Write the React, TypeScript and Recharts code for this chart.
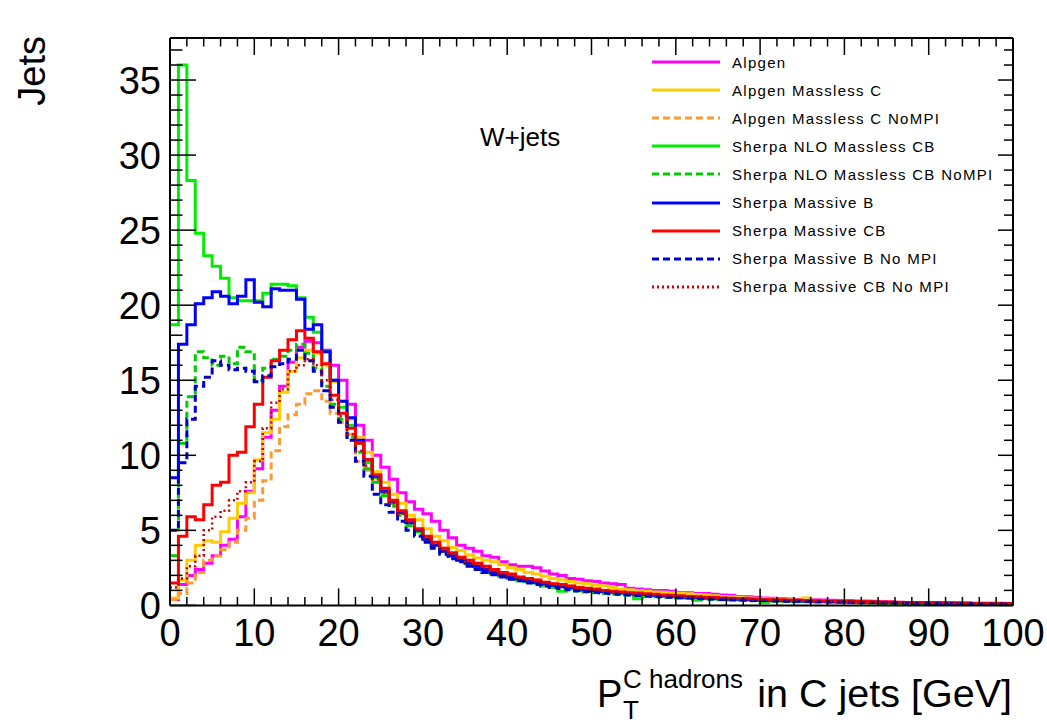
import { LineChart, Line, XAxis, YAxis, Label } from 'recharts'

const font = '"Liberation Sans", Arial, Helvetica, sans-serif'

// 1 GeV bins from 0 to 100 (low edges plus the final upper edge)
const binEdges = [
  0, 1, 2, 3, 4, 5, 6, 7, 8, 9, 10, 11, 12, 13, 14, 15, 16, 17, 18, 19,
  20, 21, 22, 23, 24, 25, 26, 27, 28, 29, 30, 31, 32, 33, 34, 35, 36, 37, 38, 39,
  40, 41, 42, 43, 44, 45, 46, 47, 48, 49, 50, 51, 52, 53, 54, 55, 56, 57, 58, 59,
  60, 61, 62, 63, 64, 65, 66, 67, 68, 69, 70, 71, 72, 73, 74, 75, 76, 77, 78, 79,
  80, 81, 82, 83, 84, 85, 86, 87, 88, 89, 90, 91, 92, 93, 94, 95, 96, 97, 98, 99, 100,
]

const xTicks = [
  0, 2, 4, 6, 8, 10, 12, 14, 16, 18, 20, 22, 24, 26, 28, 30, 32, 34, 36, 38, 40,
  42, 44, 46, 48, 50, 52, 54, 56, 58, 60, 62, 64, 66, 68, 70, 72, 74, 76, 78, 80,
  82, 84, 86, 88, 90, 92, 94, 96, 98, 100,
]
const yTicks = [
  0, 1, 2, 3, 4, 5, 6, 7, 8, 9, 10, 11, 12, 13, 14, 15, 16, 17, 18, 19, 20,
  21, 22, 23, 24, 25, 26, 27, 28, 29, 30, 31, 32, 33, 34, 35, 36, 37,
]

const alpgen = [
  0.4, 1.4, 2.0, 2.4, 2.8, 3.3, 4.0, 4.4, 5.9, 7.6,
  9.1, 11.2, 13.0, 14.6, 16.2, 17.2, 17.6, 17.5, 17.0, 16.0,
  15.0, 13.4, 12.0, 11.0, 10.0, 9.2, 8.4, 7.5, 6.9, 6.4,
  6.1, 5.6, 5.0, 4.5, 4.0, 3.8, 3.6, 3.3, 3.2, 2.9,
  2.7, 2.6, 2.6, 2.5, 2.3, 2.1, 2.0, 1.8, 1.75, 1.65,
  1.6, 1.5, 1.45, 1.4, 1.15, 1.1, 1.05, 1.0, 1.0, 0.95,
  0.85, 0.85, 0.8, 0.8, 0.75, 0.7, 0.68, 0.6, 0.58, 0.55,
  0.5, 0.48, 0.45, 0.42, 0.4, 0.4, 0.38, 0.36, 0.35, 0.33,
  0.32, 0.3, 0.3, 0.28, 0.25, 0.22, 0.2, 0.2, 0.18, 0.17,
  0.16, 0.15, 0.15, 0.14, 0.13, 0.12, 0.12, 0.11, 0.1, 0.1,
]

const alpgenMasslessC = [
  0.5, 1.7, 3.0, 4.0, 4.3, 4.2, 4.9, 5.8, 6.8, 7.5,
  9.7, 11.5, 12.4, 14.2, 15.6, 16.5, 17.0, 16.8, 16.0, 14.9,
  13.6, 12.4, 11.2, 10.2, 8.9, 8.2, 7.4, 6.8, 6.0, 5.7,
  5.1, 4.6, 4.3, 3.85, 3.65, 3.35, 3.15, 3.0, 2.9, 2.7,
  2.5, 2.4, 2.2, 2.1, 1.95, 1.8, 1.7, 1.6, 1.5, 1.45,
  1.35, 1.3, 1.2, 1.1, 1.05, 1.0, 0.95, 0.9, 0.88, 0.85,
  0.8, 0.78, 0.72, 0.7, 0.65, 0.6, 0.58, 0.55, 0.5, 0.48,
  0.45, 0.42, 0.4, 0.38, 0.36, 0.5, 0.34, 0.32, 0.3, 0.28,
  0.27, 0.25, 0.24, 0.22, 0.2, 0.19, 0.18, 0.17, 0.16, 0.15,
  0.14, 0.13, 0.13, 0.12, 0.11, 0.1, 0.1, 0.09, 0.09, 0.08,
]

const alpgenMasslessCNoMPI = [
  0.4, 0.8, 1.5, 2.2, 3.0, 3.3, 3.7, 4.2, 5.0, 5.8,
  7.0, 8.3, 10.3, 11.9, 12.7, 13.4, 14.1, 14.3, 13.6, 12.8,
  12.2, 11.4, 9.6, 9.0, 8.3, 7.5, 6.8, 6.1, 5.5, 5.0,
  4.5, 4.2, 3.8, 3.4, 3.2, 3.0, 2.8, 2.6, 2.4, 2.2,
  2.1, 1.9, 1.8, 1.7, 1.55, 1.45, 1.35, 1.3, 1.2, 1.1,
  1.05, 1.0, 0.95, 0.9, 0.85, 0.8, 0.75, 0.72, 0.68, 0.65,
  0.6, 0.58, 0.55, 0.52, 0.5, 0.47, 0.45, 0.42, 0.4, 0.38,
  0.36, 0.34, 0.33, 0.31, 0.3, 0.28, 0.27, 0.26, 0.25, 0.23,
  0.22, 0.21, 0.2, 0.19, 0.18, 0.17, 0.16, 0.15, 0.15, 0.14,
  0.13, 0.13, 0.12, 0.11, 0.11, 0.1, 0.1, 0.09, 0.09, 0.08,
]

const sherpaNloMasslessCB = [
  18.7, 36.0, 28.3, 24.8, 23.3, 22.6, 21.8, 20.5, 20.3, 20.3,
  20.3, 20.8, 21.4, 21.4, 21.3, 20.5, 19.2, 18.2, 16.9, 15.0,
  13.2, 12.0, 10.8, 9.5, 8.5, 7.5, 6.8, 6.1, 5.5, 4.9,
  4.4, 4.0, 3.6, 3.3, 3.1, 2.8, 2.6, 2.4, 2.2, 2.0,
  1.9, 1.7, 1.6, 1.5, 1.3, 1.2, 0.95, 1.1, 1.0, 0.95,
  0.95, 0.9, 0.85, 0.8, 0.75, 0.45, 0.7, 0.65, 0.6, 0.58,
  0.55, 0.5, 0.35, 0.48, 0.45, 0.42, 0.4, 0.38, 0.36, 0.34,
  0.2, 0.32, 0.3, 0.28, 0.27, 0.26, 0.25, 0.24, 0.22, 0.21,
  0.2, 0.19, 0.18, 0.17, 0.05, 0.16, 0.15, 0.14, 0.14, 0.13,
  0.12, 0.12, 0.11, 0.05, 0.1, 0.1, 0.09, 0.03, 0.08, 0.08,
]

const sherpaNloMasslessCBNoMPI = [
  3.3, 10.8, 13.9, 16.9, 16.5, 16.0, 16.6, 16.1, 17.2, 16.9,
  15.0, 15.8, 16.4, 16.6, 17.0, 17.4, 16.8, 15.8, 14.6, 13.4,
  12.4, 11.2, 10.2, 9.1, 8.2, 7.3, 6.6, 6.0, 5.3, 4.8,
  4.3, 3.9, 3.5, 3.2, 3.0, 2.7, 2.5, 2.3, 2.1, 1.95,
  1.8, 1.65, 1.55, 1.45, 1.35, 1.25, 1.15, 1.05, 0.95, 0.9,
  0.85, 0.8, 0.75, 0.72, 0.68, 0.65, 0.6, 0.58, 0.55, 0.52,
  0.5, 0.47, 0.45, 0.42, 0.4, 0.38, 0.36, 0.34, 0.33, 0.31,
  0.3, 0.28, 0.27, 0.26, 0.25, 0.24, 0.23, 0.22, 0.21, 0.2,
  0.19, 0.18, 0.17, 0.16, 0.15, 0.15, 0.14, 0.13, 0.13, 0.12,
  0.11, 0.11, 0.1, 0.1, 0.09, 0.09, 0.08, 0.08, 0.07, 0.07,
]

const sherpaMassiveB = [
  8.5, 17.4, 18.7, 20.1, 20.5, 20.9, 20.6, 20.1, 20.6, 21.7,
  20.2, 19.9, 21.1, 21.0, 21.0, 20.4, 18.4, 18.7, 16.9, 15.0,
  13.6, 12.5, 11.0, 9.7, 8.6, 7.6, 6.9, 6.2, 5.5, 5.0,
  4.4, 4.0, 3.6, 3.3, 3.0, 2.8, 2.6, 2.4, 2.2, 2.05,
  1.9, 1.8, 1.65, 1.55, 1.45, 1.35, 1.25, 1.2, 1.1, 1.05,
  1.0, 0.95, 0.9, 0.85, 0.8, 0.75, 0.72, 0.68, 0.65, 0.62,
  0.58, 0.55, 0.52, 0.5, 0.48, 0.45, 0.43, 0.41, 0.39, 0.37,
  0.35, 0.34, 0.32, 0.31, 0.3, 0.29, 0.28, 0.27, 0.26, 0.25,
  0.24, 0.23, 0.22, 0.21, 0.2, 0.2, 0.19, 0.18, 0.17, 0.17,
  0.16, 0.15, 0.15, 0.14, 0.14, 0.13, 0.13, 0.12, 0.12, 0.11,
]

const sherpaMassiveCB = [
  1.5, 4.6, 5.9, 5.7, 6.7, 8.0, 8.2, 10.0, 10.2, 11.9,
  13.4, 15.2, 16.3, 17.0, 17.7, 18.3, 17.8, 16.9, 16.1, 14.0,
  12.8, 11.8, 10.8, 9.7, 8.7, 7.8, 7.0, 6.3, 5.7, 5.1,
  4.6, 4.2, 3.8, 3.5, 3.2, 3.0, 2.8, 2.6, 2.4, 2.2,
  2.1, 1.9, 1.8, 1.7, 1.55, 1.45, 1.4, 1.3, 1.2, 1.15,
  1.1, 1.0, 0.95, 0.9, 0.85, 0.82, 0.78, 0.75, 0.7, 0.68,
  0.65, 0.6, 0.58, 0.55, 0.52, 0.5, 0.48, 0.46, 0.44, 0.42,
  0.4, 0.38, 0.37, 0.35, 0.34, 0.33, 0.31, 0.3, 0.29, 0.28,
  0.27, 0.26, 0.25, 0.24, 0.23, 0.22, 0.21, 0.2, 0.2, 0.19,
  0.18, 0.18, 0.17, 0.16, 0.16, 0.15, 0.15, 0.14, 0.14, 0.13,
]

const sherpaMassiveBNoMPI = [
  5.0, 9.5, 12.4, 14.6, 15.2, 16.3, 16.0, 15.7, 15.8, 15.6,
  14.9, 15.3, 15.9, 16.1, 16.4, 17.0, 16.3, 15.6, 14.3, 13.2,
  12.2, 11.0, 9.6, 8.6, 7.4, 6.7, 6.2, 5.6, 5.0, 4.6,
  4.2, 3.8, 3.4, 3.1, 2.9, 2.6, 2.4, 2.2, 2.05, 1.9,
  1.75, 1.65, 1.5, 1.4, 1.3, 1.2, 1.12, 1.05, 0.98, 0.92,
  0.87, 0.82, 0.78, 0.74, 0.7, 0.66, 0.62, 0.6, 0.57, 0.54,
  0.51, 0.49, 0.46, 0.44, 0.42, 0.4, 0.38, 0.36, 0.35, 0.33,
  0.32, 0.3, 0.29, 0.28, 0.27, 0.26, 0.25, 0.24, 0.23, 0.22,
  0.21, 0.2, 0.19, 0.19, 0.18, 0.17, 0.16, 0.16, 0.15, 0.14,
  0.14, 0.13, 0.13, 0.12, 0.12, 0.11, 0.11, 0.1, 0.1, 0.1,
]

const sherpaMassiveCBNoMPI = [
  1.2, 1.8, 2.6, 3.3, 5.0, 5.9, 6.3, 7.0, 7.6, 8.2,
  9.6, 11.8, 13.5, 14.4, 15.6, 16.0, 16.4, 16.0, 15.0, 13.7,
  12.6, 11.4, 10.3, 9.3, 8.4, 7.5, 6.8, 6.1, 5.5, 5.0,
  4.5, 4.1, 3.7, 3.4, 3.1, 2.9, 2.7, 2.5, 2.3, 2.1,
  2.0, 1.85, 1.7, 1.6, 1.5, 1.4, 1.3, 1.25, 1.15, 1.1,
  1.05, 0.98, 0.92, 0.88, 0.84, 0.8, 0.75, 0.72, 0.68, 0.65,
  0.62, 0.6, 0.57, 0.54, 0.52, 0.5, 0.47, 0.45, 0.43, 0.41,
  0.39, 0.37, 0.36, 0.34, 0.33, 0.32, 0.3, 0.29, 0.28, 0.27,
  0.26, 0.25, 0.24, 0.23, 0.22, 0.21, 0.2, 0.2, 0.19, 0.18,
  0.17, 0.17, 0.16, 0.16, 0.15, 0.15, 0.14, 0.14, 0.13, 0.13,
]

interface Series {
  key: string
  name: string
  values: number[]
  color: string
  dash?: string
  width: number
}

const series: Series[] = [
  { key: 'alpgen', name: 'Alpgen', values: alpgen, color: '#ff00ff', width: 3 },
  { key: 'alpgenC', name: 'Alpgen Massless C', values: alpgenMasslessC, color: '#ffcc00', width: 3 },
  { key: 'alpgenCNoMPI', name: 'Alpgen Massless C NoMPI', values: alpgenMasslessCNoMPI, color: '#ff9933', dash: '7 4', width: 3 },
  { key: 'nlo', name: 'Sherpa NLO Massless CB', values: sherpaNloMasslessCB, color: '#00ee00', width: 3 },
  { key: 'nloNoMPI', name: 'Sherpa NLO Massless CB NoMPI', values: sherpaNloMasslessCBNoMPI, color: '#00cc00', dash: '7 4', width: 3 },
  { key: 'massiveB', name: 'Sherpa Massive B', values: sherpaMassiveB, color: '#0000ff', width: 3 },
  { key: 'massiveCB', name: 'Sherpa Massive CB', values: sherpaMassiveCB, color: '#ff0000', width: 3 },
  { key: 'massiveBNoMPI', name: 'Sherpa Massive B No MPI', values: sherpaMassiveBNoMPI, color: '#0000cc', dash: '7 4', width: 3 },
  { key: 'massiveCBNoMPI', name: 'Sherpa Massive CB No MPI', values: sherpaMassiveCBNoMPI, color: '#cc0000', dash: '2 3', width: 2.5 },
]

// each row holds a bin's low edge; the last row repeats the final bin so stepAfter closes at 100
const data = binEdges.map((x, i) => {
  const row: Record<string, number> = { x }
  series.forEach((s) => {
    row[s.key] = s.values[Math.min(i, s.values.length - 1)]
  })
  return row
})

const labelStyle = { fontFamily: font, fontSize: 38, fill: '#000' }

function BottomTick({ x, y, payload }: any) {
  const major = payload.value % 10 === 0
  return (
    <g>
      <line x1={x} y1={y} x2={x} y2={y - (major ? 17 : 8.5)} stroke="#000" strokeWidth={1.5} />
      {major && (
        <text x={x} y={y + 41} textAnchor="middle" {...labelStyle}>
          {payload.value}
        </text>
      )}
    </g>
  )
}

function TopTick({ x, y, payload }: any) {
  const major = payload.value % 10 === 0
  return <line x1={x} y1={y} x2={x} y2={y + (major ? 17 : 8.5)} stroke="#000" strokeWidth={1.5} />
}

function LeftTick({ x, y, payload }: any) {
  const major = payload.value % 5 === 0
  return (
    <g>
      <line x1={x} y1={y} x2={x + (major ? 26 : 12.5)} y2={y} stroke="#000" strokeWidth={1.5} />
      {major && (
        <text x={x - 9} y={y + 13.5} textAnchor="end" {...labelStyle}>
          {payload.value}
        </text>
      )}
    </g>
  )
}

function RightTick({ x, y, payload }: any) {
  const major = payload.value % 5 === 0
  return <line x1={x} y1={y} x2={x - (major ? 15 : 9)} y2={y} stroke="#000" strokeWidth={1.5} />
}

function XTitle() {
  return (
    <g fontFamily={font} fill="#000">
      <text x={597} y={707} fontSize={38}>P</text>
      <text x={623} y={688} fontSize={26}>C hadrons</text>
      <text x={623} y={719} fontSize={26}>T</text>
      <text x={1012} y={707} fontSize={39.5} textAnchor="end">in C jets [GeV]</text>
    </g>
  )
}

function YTitle() {
  return (
    <text transform="translate(45,36) rotate(-90)" textAnchor="end" {...labelStyle}>
      Jets
    </text>
  )
}

const axisLine = { stroke: '#000', strokeWidth: 2 }

export default function App() {
  return (
    <div style={{ position: 'absolute', left: 0, top: 0, width: 1047, height: 724, background: '#fff' }}>
      <LineChart width={1047} height={724} data={data} margin={{ top: 0, right: 0, bottom: 0, left: 0 }}>
        <XAxis
          xAxisId="bottom"
          dataKey="x"
          type="number"
          domain={[0, 100]}
          ticks={xTicks}
          interval={0}
          height={118.6}
          tickSize={0}
          tickMargin={0}
          tickLine={false}
          axisLine={axisLine}
          tick={BottomTick}
        >
          <Label content={XTitle} />
        </XAxis>
        <XAxis
          xAxisId="top"
          orientation="top"
          dataKey="x"
          type="number"
          domain={[0, 100]}
          ticks={xTicks}
          interval={0}
          height={38}
          tickSize={0}
          tickMargin={0}
          tickLine={false}
          axisLine={axisLine}
          tick={TopTick}
        />
        <YAxis
          yAxisId="left"
          type="number"
          domain={[0, 37.8]}
          allowDataOverflow
          ticks={yTicks}
          interval={0}
          width={170}
          tickSize={0}
          tickMargin={0}
          tickLine={false}
          axisLine={axisLine}
          tick={LeftTick}
        >
          <Label content={YTitle} />
        </YAxis>
        <YAxis
          yAxisId="right"
          orientation="right"
          type="number"
          domain={[0, 37.8]}
          allowDataOverflow
          ticks={yTicks}
          interval={0}
          width={34}
          tickSize={0}
          tickMargin={0}
          tickLine={false}
          axisLine={axisLine}
          tick={RightTick}
        />
        {series.map((s) => (
          <Line
            key={s.key}
            xAxisId="bottom"
            yAxisId="left"
            type="stepAfter"
            dataKey={s.key}
            name={s.name}
            stroke={s.color}
            strokeWidth={s.width}
            strokeDasharray={s.dash}
            dot={false}
            activeDot={false}
            isAnimationActive={false}
          />
        ))}
      </LineChart>

      <div
        style={{
          position: 'absolute',
          left: 480,
          top: 122,
          fontFamily: font,
          fontSize: 26,
          lineHeight: '30px',
          color: '#000',
        }}
      >
        W+jets
      </div>

      <div
        style={{
          position: 'absolute',
          left: 650,
          top: 48,
          fontFamily: font,
          fontSize: 15,
          letterSpacing: 1.3,
          color: '#000',
        }}
      >
        {series.map((s) => (
          <div key={s.key} style={{ display: 'flex', alignItems: 'center', height: 28.1 }}>
            <svg width={70} height={6}>
              <line x1={2} y1={3} x2={70} y2={3} stroke={s.color} strokeWidth={3} strokeDasharray={s.dash} />
            </svg>
            <span style={{ marginLeft: 12, whiteSpace: 'nowrap' }}>{s.name}</span>
          </div>
        ))}
      </div>
    </div>
  )
}
